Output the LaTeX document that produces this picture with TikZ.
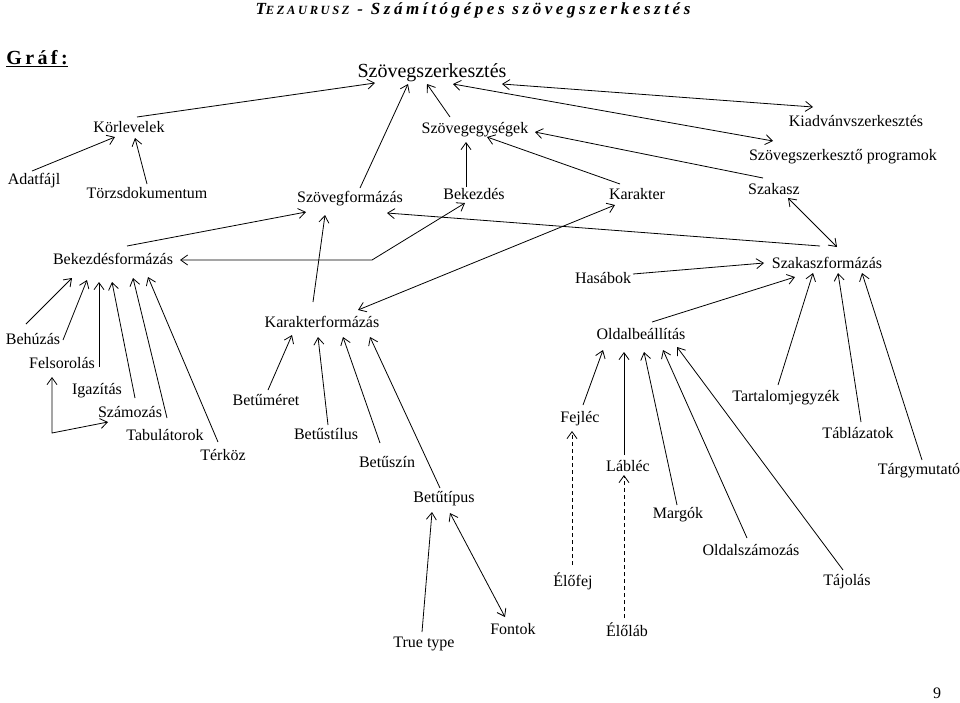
\documentclass[tikz,border=0pt]{standalone}
\usepackage{fontspec}
\setmainfont{Liberation Serif}
\newfontfamily\hdrfont[LetterSpace=21]{Liberation Serif}
\newfontfamily\grffont[LetterSpace=17]{Liberation Serif}
\usetikzlibrary{arrows.meta}
\begin{document}
\begin{tikzpicture}[x=1pt,y=-1pt,
  lbl/.style={font=\fontsize{16}{16}\selectfont, inner sep=0pt, text height=11pt, text depth=0pt},
  ttl/.style={font=\fontsize{20}{20}\selectfont, inner sep=0pt, text height=14pt, text depth=0pt},
  arr/.style={draw, line width=0.8pt, -{Straight Barb[length=7pt,width=10pt]}},
  darr/.style={draw, line width=0.8pt, {Straight Barb[length=7pt,width=10pt]}-{Straight Barb[length=7pt,width=10pt]}},
  dsh/.style={arr, dash pattern=on 4pt off 3pt}]
\fill[white] (0,0) rectangle (960,702);
\useasboundingbox (0,0) rectangle (960,702);
% header
\node[inner sep=0pt] (hdr) at (473,10) {\hdrfont\bfseries\itshape\fontsize{17}{17}\selectfont T{\fontsize{12.5}{12.5}\selectfont EZAURUSZ} - Számítógépes szövegszerkesztés};
\node[inner sep=0pt] (graf) at (37,59) {\grffont\bfseries\fontsize{20}{20}\selectfont\underline{Gráf:}};
\node[lbl] (pnum) at (937,693) {9};
% nodes
\node[ttl] (title) at (432,70) {Szövegszerkesztés};
\node[lbl] (koer) at (129,127) {Körlevelek};
\node[lbl] (szegys) at (475,128) {Szövegegységek};
\node[lbl] (kiadv) at (856,121) {Kiadvánvszerkesztés};
\node[lbl] (szprog) at (843,155) {Szövegszerkesztő programok};
\node[lbl] (adat) at (34,179) {Adatfájl};
\node[lbl] (torzs) at (147,193) {Törzsdokumentum};
\node[lbl] (szform) at (350,197) {Szövegformázás};
\node[lbl] (bekezd) at (474,194) {Bekezdés};
\node[lbl] (kar) at (637,194) {Karakter};
\node[lbl] (szak) at (774,189) {Szakasz};
\node[lbl] (bekf) at (113,259) {Bekezdésformázás};
\node[lbl] (hasab) at (603,278) {Hasábok};
\node[lbl] (szakf) at (827,263) {Szakaszformázás};
\node[lbl] (behuz) at (33,339) {Behúzás};
\node[lbl] (felsor) at (62,363) {Felsorolás};
\node[lbl] (karf) at (322,322) {Karakterformázás};
\node[lbl] (oldalb) at (641,334) {Oldalbeállítás};
\node[lbl] (igaz) at (97,389) {Igazítás};
\node[lbl] (szamoz) at (130,412) {Számozás};
\node[lbl] (bmeret) at (266,400) {Betűméret};
\node[lbl] (tartalom) at (786,396) {Tartalomjegyzék};
\node[lbl] (fejlec) at (580,417) {Fejléc};
\node[lbl] (tabul) at (165,435) {Tabulátorok};
\node[lbl] (bstil) at (326,434) {Betűstílus};
\node[lbl] (tablaz) at (858,433) {Táblázatok};
\node[lbl] (terkoz) at (223,455) {Térköz};
\node[lbl] (bszin) at (387,462) {Betűszín};
\node[lbl] (lablec) at (628,466) {Lábléc};
\node[lbl] (targy) at (919,469) {Tárgymutató};
\node[lbl] (btipus) at (444,497) {Betűtípus};
\node[lbl] (margok) at (678,513) {Margók};
\node[lbl] (oldalsz) at (751,550) {Oldalszámozás};
\node[lbl] (elofej) at (573,581) {Élőfej};
\node[lbl] (tajolas) at (847,580) {Tájolás};
\node[lbl] (truetype) at (424,642) {True type};
\node[lbl] (fontok) at (513,629) {Fontok};
\node[lbl] (elolab) at (627,631) {Élőláb};
% connectors
\draw[arr] ([shift={(8,-10)}]koer.center) -- ([shift={(-57,13)}]title.center);
\draw[arr] ([shift={(10,-9)}]szform.center) -- ([shift={(-24,14)}]title.center);
\draw[arr] ([shift={(-25,-11)}]szegys.center) -- ([shift={(-5,14)}]title.center);
\draw[darr] ([shift={(21,14)}]title.center) -- ([shift={(-70,-14)}]szprog.center);
\draw[darr] ([shift={(70,14)}]title.center) -- ([shift={(-43,-14)}]kiadv.center);
\draw[arr] ([shift={(-2,-8)}]adat.center) -- ([shift={(-14,10)}]koer.center);
\draw[arr] ([shift={(0,-9)}]torzs.center) -- ([shift={(6,11)}]koer.center);
\draw[arr] ([shift={(-8,-7)}]bekezd.center) -- ([shift={(-9,14)}]szegys.center);
\draw[arr] ([shift={(-17,-10)}]kar.center) -- ([shift={(12,9)}]szegys.center);
\draw[arr] ([shift={(-11,-11)}]szak.center) -- ([shift={(60,4)}]szegys.center);
\draw[darr] ([shift={(14,9)}]szak.center) -- ([shift={(10,-16)}]szakf.center);
\draw[arr] ([shift={(-7,-17)}]szakf.center) -- ([shift={(37,16)}]szform.center);
\draw[arr] ([shift={(14,-13)}]bekf.center) -- ([shift={(-44,15)}]szform.center);
\coordinate (c14) at (372,260);
\draw[darr] ([shift={(-9,9)}]bekezd.center) -- (c14) -- ([shift={(67,1)}]bekf.center);
\draw[darr] ([shift={(-22,11)}]kar.center) -- ([shift={(36,-12)}]karf.center);
\draw[arr] ([shift={(-9,-20)}]karf.center) -- ([shift={(-25,18)}]szform.center);
\draw[arr] ([shift={(30,-4)}]hasab.center) -- ([shift={(-63,0)}]szakf.center);
\draw[arr] ([shift={(11,-12)}]oldalb.center) -- ([shift={(-32,14)}]szakf.center);
\draw[arr] ([shift={(-8,-11)}]tartalom.center) -- ([shift={(-14,10)}]szakf.center);
\draw[arr] ([shift={(3,-11)}]tablaz.center) -- ([shift={(11,10)}]szakf.center);
\draw[arr] ([shift={(3,-9)}]targy.center) -- ([shift={(35,10)}]szakf.center);
\draw[arr] ([shift={(-7,-15)}]behuz.center) -- ([shift={(-41,19)}]bekf.center);
\draw[arr] ([shift={(1,-23)}]felsor.center) -- ([shift={(-26,21)}]bekf.center);
\draw[arr] ([shift={(2,-22)}]igaz.center) -- ([shift={(-14,23)}]bekf.center);
\draw[arr] ([shift={(5,-14)}]szamoz.center) -- ([shift={(-1,23)}]bekf.center);
\draw[arr] ([shift={(2,-17)}]tabul.center) -- ([shift={(20,19)}]bekf.center);
\draw[arr] ([shift={(-5,-13)}]terkoz.center) -- ([shift={(35,18)}]bekf.center);
\coordinate (c28) at (52,433);
\draw[darr] ([shift={(-10,14)}]felsor.center) -- (c28) -- ([shift={(-22,10)}]szamoz.center);
\draw[arr] ([shift={(2,-10)}]bmeret.center) -- ([shift={(-30,13)}]karf.center);
\draw[arr] ([shift={(2,-9)}]bstil.center) -- ([shift={(-4,15)}]karf.center);
\draw[arr] ([shift={(-7,-19)}]bszin.center) -- ([shift={(21,15)}]karf.center);
\draw[arr] ([shift={(-4,-9)}]btipus.center) -- ([shift={(48,15)}]karf.center);
\draw[arr] ([shift={(-2,-10)}]truetype.center) -- ([shift={(-12,15)}]btipus.center);
\draw[darr] ([shift={(6,16)}]btipus.center) -- ([shift={(-8,-12)}]fontok.center);
\draw[arr] ([shift={(3,-12)}]fejlec.center) -- ([shift={(-38,16)}]oldalb.center);
\draw[arr] ([shift={(-4,-11)}]lablec.center) -- ([shift={(-17,18)}]oldalb.center);
\draw[arr] ([shift={(-1,-8)}]margok.center) -- ([shift={(3,18)}]oldalb.center);
\draw[arr] ([shift={(-4,-12)}]oldalsz.center) -- ([shift={(22,16)}]oldalb.center);
\draw[arr] ([shift={(-4,-10)}]tajolas.center) -- ([shift={(36,13)}]oldalb.center);
\draw[dsh] ([shift={(-1,-16)}]elofej.center) -- ([shift={(-8,14)}]fejlec.center);
\draw[dsh] ([shift={(-3,-13)}]elolab.center) -- ([shift={(-4,9)}]lablec.center);
\end{tikzpicture}
\end{document}
